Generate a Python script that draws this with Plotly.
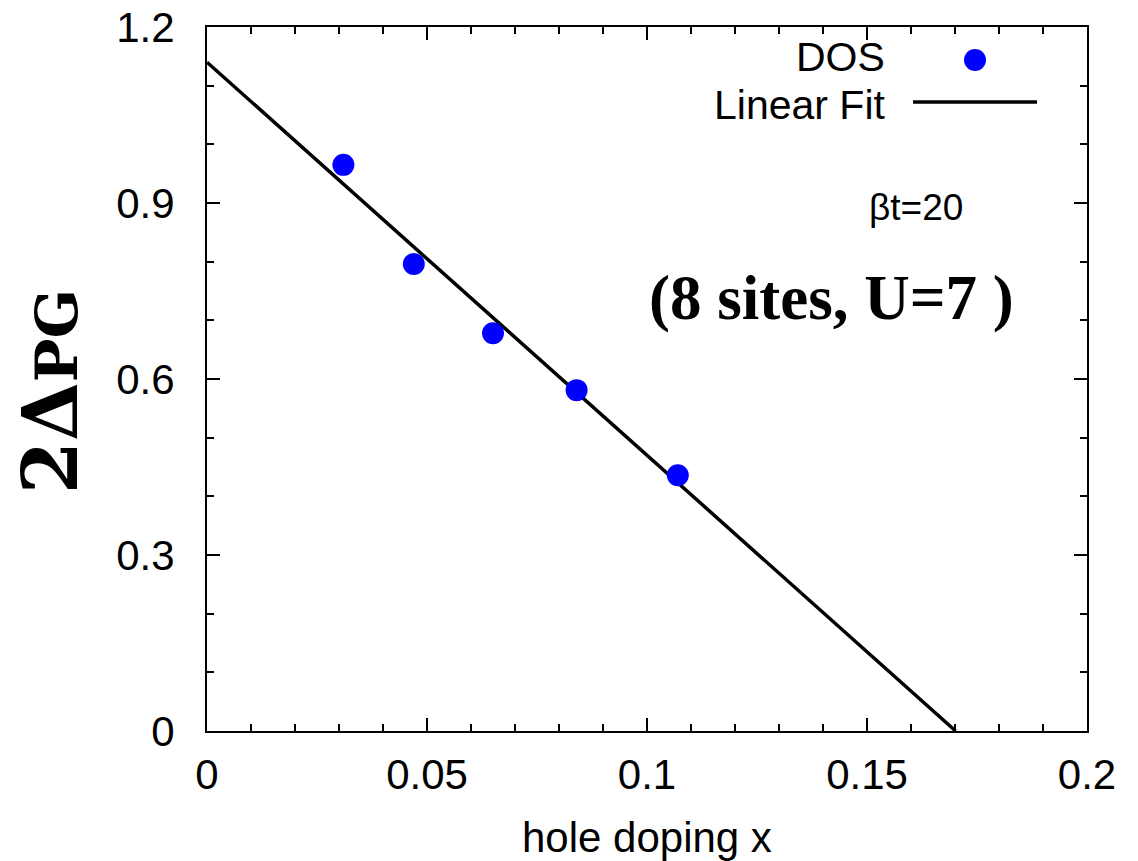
import numpy as np
import plotly.graph_objects as go

# Pseudogap width vs hole doping (8-site cluster, U=7, beta*t=20)
doping = [0.031, 0.047, 0.065, 0.084, 0.107]
gap_dos = [0.965, 0.796, 0.678, 0.581, 0.436]

# Linear fit parameters: 2*Delta_PG = fit_intercept + fit_slope * x
fit_intercept = 1.14
fit_slope = -6.70

x_range = [0, 0.2]
y_range = [0, 1.2]

W, H = 1138, 861
L, R, T, B = 207, 51, 27, 130
PW, PH = W - L - R, H - T - B


def px_x(p):
    return (p - L) / PW


def px_y(p):
    return (H - B - p) / PH


fit_x = np.array([0.0, -fit_intercept / fit_slope])
fit_y = fit_intercept + fit_slope * fit_x

sans = "Liberation Sans, Arial, Helvetica, sans-serif"
serif = "Liberation Serif, Times New Roman, serif"

fig = go.Figure()
fig.add_trace(go.Scatter(
    x=fit_x, y=fit_y, mode="lines", name="Linear Fit",
    line=dict(color="black", width=3.5), showlegend=False,
))
fig.add_trace(go.Scatter(
    x=doping, y=gap_dos, mode="markers", name="DOS",
    marker=dict(color="#0000ff", size=22, line=dict(width=0)),
    showlegend=False,
))

axis_common = dict(
    showline=True, linecolor="black", linewidth=2, mirror="allticks",
    ticks="inside", ticklen=13, tickwidth=2, tickcolor="black",
    showgrid=False, zeroline=False, automargin=False,
    tickfont=dict(family=sans, size=42, color="black"),
)

fig.update_xaxes(
    range=x_range, dtick=0.05, tick0=0,
    minor=dict(dtick=0.01, ticks="inside", ticklen=7, tickwidth=2, tickcolor="black"),
    ticklabelstandoff=6,
    **axis_common,
)
fig.update_yaxes(
    range=y_range, dtick=0.3, tick0=0,
    minor=dict(dtick=0.1, ticks="inside", ticklen=7, tickwidth=2, tickcolor="black"),
    ticklabelstandoff=22,
    **axis_common,
)

# legend rows share one boundary so the two text boxes stack without overlapping
legend_split = px_y(81)

annotations = [
    dict(text="hole doping x", x=0.5, y=px_y(838), xref="paper", yref="paper",
         xanchor="center", yanchor="middle", showarrow=False,
         font=dict(family=sans, size=42, color="black")),
    dict(text="<b>2Δ<span style='font-size:58px'>PG</span></b>",
         x=px_x(50), y=px_y(392), xref="paper", yref="paper",
         xanchor="center", yanchor="middle", textangle=-90, showarrow=False,
         font=dict(family="DejaVu Serif, serif", size=76, color="black")),
    dict(text="DOS", x=px_x(886), y=legend_split, xref="paper", yref="paper",
         xanchor="right", yanchor="bottom", showarrow=False, borderpad=0,
         font=dict(family=sans, size=41, color="black")),
    dict(text="Linear Fit", x=px_x(887), y=legend_split, xref="paper", yref="paper",
         xanchor="right", yanchor="top", showarrow=False, borderpad=0,
         font=dict(family=sans, size=41, color="black")),
    dict(text="βt=20", x=px_x(916), y=px_y(207), xref="paper", yref="paper",
         xanchor="center", yanchor="middle", showarrow=False,
         font=dict(family=sans, size=37, color="black")),
    dict(text="<b>(8 sites, U=7 )</b>", x=px_x(831), y=px_y(298), xref="paper", yref="paper",
         xanchor="center", yanchor="middle", showarrow=False,
         font=dict(family=serif, size=63, color="black")),
]

shapes = [
    # legend key for the DOS markers
    dict(type="circle", xref="paper", yref="paper", xsizemode="pixel", ysizemode="pixel",
         xanchor=px_x(975), yanchor=px_y(60), x0=-11, x1=11, y0=-11, y1=11,
         fillcolor="#0000ff", line=dict(width=0)),
    # legend key for the fit line
    dict(type="line", xref="paper", yref="paper",
         x0=px_x(913), x1=px_x(1037), y0=px_y(102), y1=px_y(102),
         line=dict(color="black", width=3.5)),
]

fig.update_layout(
    width=W, height=H,
    margin=dict(l=L, r=R, t=T, b=B, pad=0, autoexpand=False),
    paper_bgcolor="white", plot_bgcolor="white",
    annotations=annotations, shapes=shapes,
    showlegend=False,
)

fig.write_html("out.html")
